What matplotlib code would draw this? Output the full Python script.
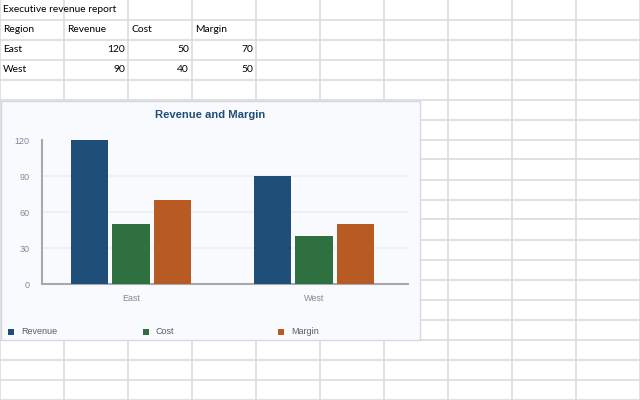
import matplotlib
matplotlib.use("Agg")
import matplotlib.pyplot as plt
from matplotlib.patches import Rectangle
import numpy as np

# sheet cells
TITLE = "Executive revenue report"
HEADER = ["Region", "Revenue", "Cost", "Margin"]
regions = ["East", "West"]
revenue = [120, 90]
cost = [50, 40]
margin = [70, 50]

# chart
series = ["Revenue", "Cost", "Margin"]
colors = ["#1F4E79", "#2E7040", "#B85A24"]
yticks = [0, 30, 60, 90, 120]

W, H = 640, 400
fig = plt.figure(figsize=(6.4, 4.0), dpi=100)
fig.patch.set_facecolor("white")


def fx(x):
    return x / W


def fy(y):
    return 1 - y / H


GRID = "#DCDCDC"
CELL_FONT = ["Lato", "DejaVu Sans"]
CHART_FONT = ["Liberation Sans", "DejaVu Sans"]

# spreadsheet grid
for c in range(0, W + 1, 64):
    fig.add_artist(plt.Line2D([fx(c - 0.5), fx(c - 0.5)], [0, 1], color=GRID, lw=1.2, zorder=0))
for r in range(20, H + 1, 20):
    fig.add_artist(plt.Line2D([0, 1], [fy(r - 0.5), fy(r - 0.5)], color=GRID, lw=1.2, zorder=0))


def cell(col, row, s, right=False):
    if right:
        x = 64 * (col + 1) - 3
    else:
        x = 64 * col + 3
    fig.text(fx(x), fy(20 * row + 10), s, ha="right" if right else "left", va="center",
             fontsize=7.4, family=CELL_FONT, color="#000000")


cell(0, 0, TITLE)
for i, h in enumerate(HEADER):
    cell(i, 1, h)
for j, reg in enumerate(regions):
    cell(0, 2 + j, reg)
    for i, v in enumerate([revenue[j], cost[j], margin[j]]):
        cell(1 + i, 2 + j, str(v), right=True)

# chart box
fig.add_artist(Rectangle((fx(0.5), fy(339.5)), fx(419), (339 - 100) / H,
                         transform=fig.transFigure, facecolor="#F8FAFE",
                         edgecolor="#D3D9E2", lw=1.0, zorder=2))

fig.text(fx(210), fy(114.5), "Revenue and Margin", ha="center", va="center", fontsize=8.1,
         fontweight="bold", color="#1F4E79", family=CHART_FONT, zorder=5)

ax = fig.add_axes([fx(42), fy(284), fx(408 - 42), (284 - 140) / H], zorder=3)
ax.set_facecolor("none")
x = np.arange(len(regions))
w = 0.205
off = 0.227
for k, (vals, col) in enumerate(zip([revenue, cost, margin], colors)):
    ax.bar(x + (k - 1) * off, vals, w, color=col, zorder=3)

ax.set_xlim(-0.486, 1.514)
ax.set_ylim(0, 120)
ax.set_yticks(yticks)
ax.set_yticklabels([str(t) for t in yticks], fontsize=6.5, color="#7F8A99", family=CHART_FONT)
ax.set_xticks(x)
ax.set_xticklabels(regions, fontsize=6.5, color="#7F8A99", family=CHART_FONT)
ax.tick_params(axis="both", length=0)
ax.tick_params(axis="y", pad=9)
ax.tick_params(axis="x", pad=7)
for yv in yticks[1:-1]:
    ax.axhline(yv, color="#ECEFF4", lw=1.2, zorder=1)
for s in ["top", "right"]:
    ax.spines[s].set_visible(False)
ax.spines["left"].set_color("#A6A9AE")
ax.spines["bottom"].set_color("#A6A9AE")
ax.spines["left"].set_linewidth(1.5)
ax.spines["bottom"].set_linewidth(1.5)

# legend
leg_x = [8, 143, 278]
for name, col, lx in zip(series, colors, leg_x):
    fig.add_artist(Rectangle((fx(lx), fy(335)), fx(6), 6 / H, transform=fig.transFigure,
                             facecolor=col, edgecolor="none", zorder=5))
    fig.text(fx(lx + 13), fy(331.5), name, ha="left", va="center", fontsize=6.5,
             color="#555D69", family=CHART_FONT, zorder=5)

fig.savefig("out.png", dpi=100)
